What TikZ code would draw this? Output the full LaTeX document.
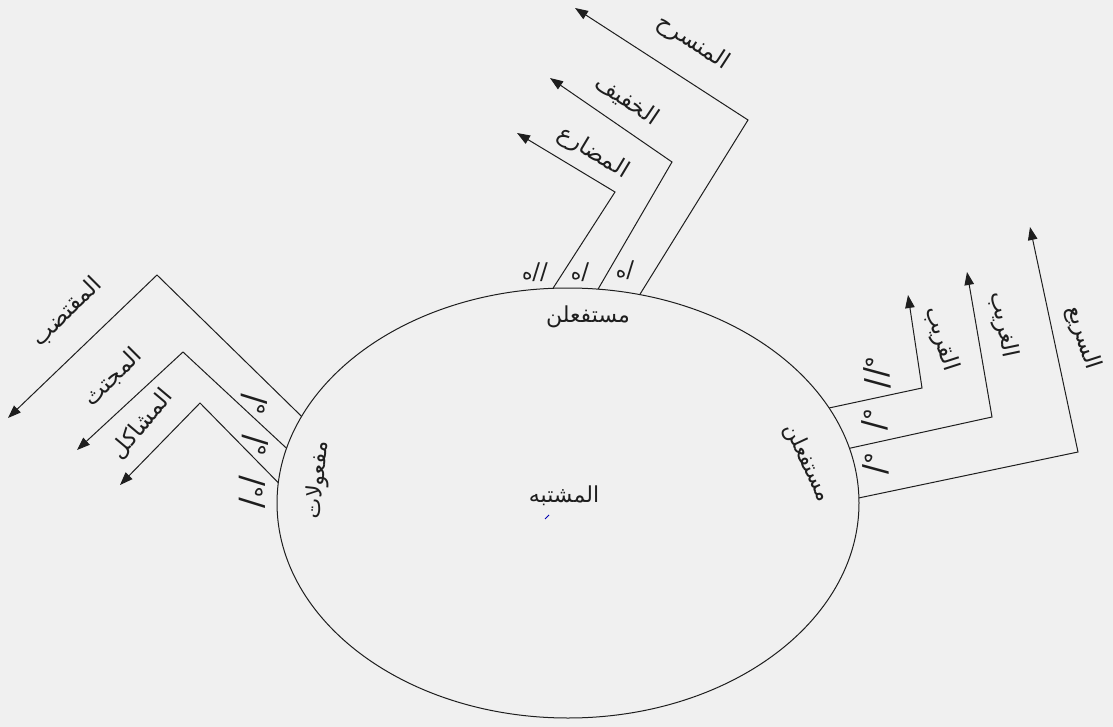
\documentclass[tikz,border=0pt]{standalone}
\usepackage{fontspec}
\usetikzlibrary{arrows.meta,shapes.geometric}
\newfontfamily\arabicfont[Script=Arabic]{DejaVu Sans}
\TeXXeTstate=1
\definecolor{bg}{RGB}{240,240,240}
\definecolor{ink}{RGB}{30,30,30}
\newcommand\ar[1]{\beginR #1\endR}
\newcommand\slsh{{\fontsize{23}{23}\selectfont /}}
\newcommand\bslsh{{\fontsize{32}{32}\selectfont /}}
\newcommand\hh{{\fontsize{20}{20}\selectfont ه}}
\begin{document}
\begin{tikzpicture}[x=1pt,y=-1pt,
  link/.style={draw=ink, line width=1pt, -{Triangle[length=13pt,width=9.5pt]}},
  lab/.style={font={\arabicfont\fontsize{23}{25}\selectfont}, inner sep=0pt, text=ink},
  elab/.style={font={\arabicfont\fontsize{22}{24}\selectfont}, inner sep=0pt, text=ink},
  markA/.style={font=\arabicfont, inner sep=0pt, text=ink},
]
\fill[bg] (0,0) rectangle (1113,727);
\useasboundingbox (0,0) rectangle (1113,727);
\node[ellipse, draw=ink, line width=1pt, minimum width=582pt, minimum height=430pt, inner sep=0pt, outer sep=0pt] (E) at (568,503) {};

% ellipse labels
\node[elab] (fTop) at (588,317) {\ar{مستفعلن}};
\node[elab, rotate=84] (fLeft) at (318,480) {\ar{مفعولات}};
\node[elab, rotate=-65] (fRight) at (807,463) {\ar{مستفعلن}};
\node[elab] (centre) at (564,496) {\ar{المشتبه}};
\draw[blue!70!black, line width=0.8pt] (545,519) -- (549,515);

% top group
\coordinate (tc1) at (615,192); \coordinate (tt1) at (517,133);
\coordinate (tc2) at (672,162); \coordinate (tt2) at (550,78);
\coordinate (tc3) at (748,120); \coordinate (tt3) at (575,8);
\draw[link] (E.94) -- (tc1) -- (tt1);
\draw[link] (E.82.6) -- (tc2) -- (tt2);
\draw[link] (E.71.1) -- (tc3) -- (tt3);
\node[lab, rotate=-31] (nT1) at (593,153) {\ar{المضارع}};
\node[lab, rotate=-34] (nT2) at (627,100) {\ar{الخفيف}};
\node[lab, rotate=-33] (nT3) at (693,43) {\ar{المنسرح}};
\node[markA] (mT1) at (535,272) {\ar{\slsh\slsh\hh}};
\node[markA] (mT2) at (580,272) {\ar{\slsh\hh}};
\node[markA] (mT3) at (625,270) {\ar{\slsh\hh}};

% left group
\coordinate (lc1) at (157,275); \coordinate (lt1) at (8,418);
\coordinate (lc2) at (183,352); \coordinate (lt2) at (77,450);
\coordinate (lc3) at (200,403); \coordinate (lt3) at (120,485);
\draw[link] (E.162.9) -- (lc1) -- (lt1);
\draw[link] (E.169.3) -- (lc2) -- (lt2);
\draw[link] (E.176.8) -- (lc3) -- (lt3);
\node[lab, rotate=45] (nL1) at (67,312) {\ar{المقتضب}};
\node[lab, rotate=45] (nL2) at (113,377) {\ar{المجتث}};
\node[lab, rotate=50] (nL3) at (142,424) {\ar{المشاكل}};
\node[markA, rotate=90] (mL1) at (254,404) {\ar{\bslsh\hh}};
\node[markA, rotate=90] (mL2) at (255,445) {\ar{\bslsh\hh}};
\node[markA, rotate=90] (mL3) at (252,492) {\ar{\bslsh\hh\bslsh}};

% right group
\coordinate (rc1) at (922,388); \coordinate (rt1) at (908,295);
\coordinate (rc2) at (992,417); \coordinate (rt2) at (967,272);
\coordinate (rc3) at (1078,452); \coordinate (rt3) at (1030,227);
\draw[link] (E.20) -- (rc1) -- (rt1);
\draw[link] (E.11) -- (rc2) -- (rt2);
\draw[link] (E.1.2) -- (rc3) -- (rt3);
\node[lab, rotate=-72] (nR1) at (941,339) {\ar{القريب}};
\node[lab, rotate=-78] (nR2) at (1003,325) {\ar{الغريب}};
\node[lab, rotate=-72] (nR3) at (1083,338) {\ar{السريع}};
\node[markA, rotate=-88] (mR1) at (877,373) {\ar{\bslsh\bslsh\hh}};
\node[markA, rotate=-88] (mR2) at (875,420) {\ar{\bslsh\hh}};
\node[markA, rotate=-88] (mR3) at (876,464) {\ar{\bslsh\hh}};
\end{tikzpicture}
\end{document}
